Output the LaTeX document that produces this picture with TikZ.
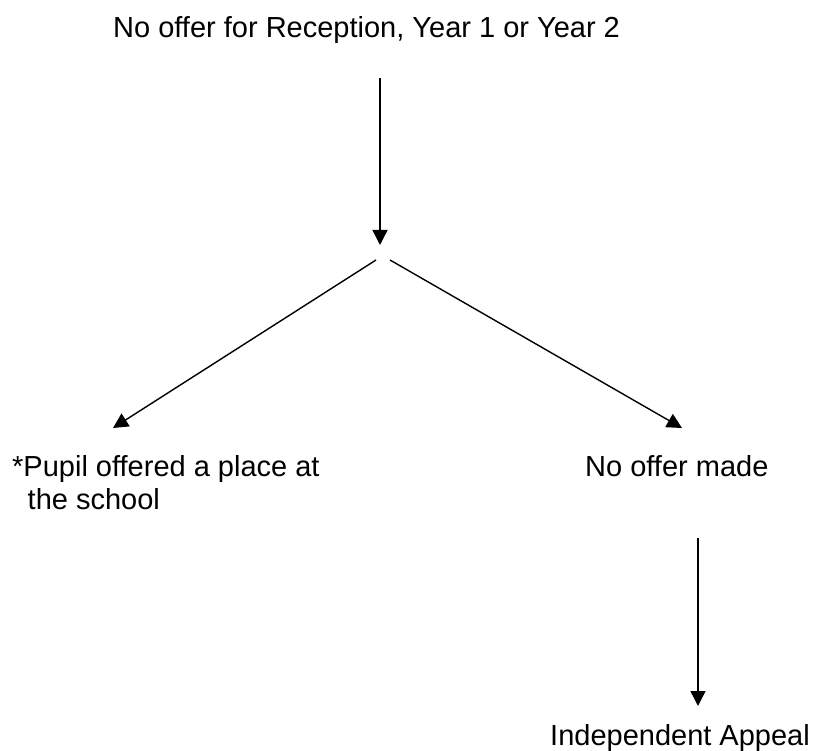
\documentclass[tikz,border=0pt]{standalone}
\usepackage{fontspec}
\setmainfont{Liberation Sans}
\usetikzlibrary{arrows.meta}
\begin{document}
\begin{tikzpicture}[x=1pt,y=-1pt,
  lbl/.style={anchor=base west,inner sep=0pt,font=\fontsize{29}{33}\selectfont},
  conn/.style={line width=1.4pt,-{Triangle[length=15pt,width=15pt]}},
  plain/.style={line width=1.4pt}]
\useasboundingbox (0,0) rectangle (815,751);
\node[lbl] (top) at (113,38) {No offer for Reception, Year 1 or Year 2};
\node[lbl] (pupil) at (12,477) {*Pupil offered a place at};
\node[lbl] (pupil2) at (27.5,510) {the school};
\node[lbl] (nooffer) at (585,477) {No offer made};
\node[lbl] (appeal) at (550,745) {Independent Appeal};
\coordinate (vtop) at (380,78);
\coordinate (vend) at (380,245);
\coordinate (lstart) at (376,260);
\coordinate (ltip) at (113,428);
\coordinate (rstart) at (390,260);
\coordinate (rtip) at (682,428);
\coordinate (btop) at (698,538);
\coordinate (btip) at (698,706);
\draw[conn] (vtop) -- (vend);
\draw[conn] (lstart) -- (ltip);
\draw[conn] (rstart) -- (rtip);
\draw[conn] (btop) -- (btip);
\end{tikzpicture}
\end{document}
